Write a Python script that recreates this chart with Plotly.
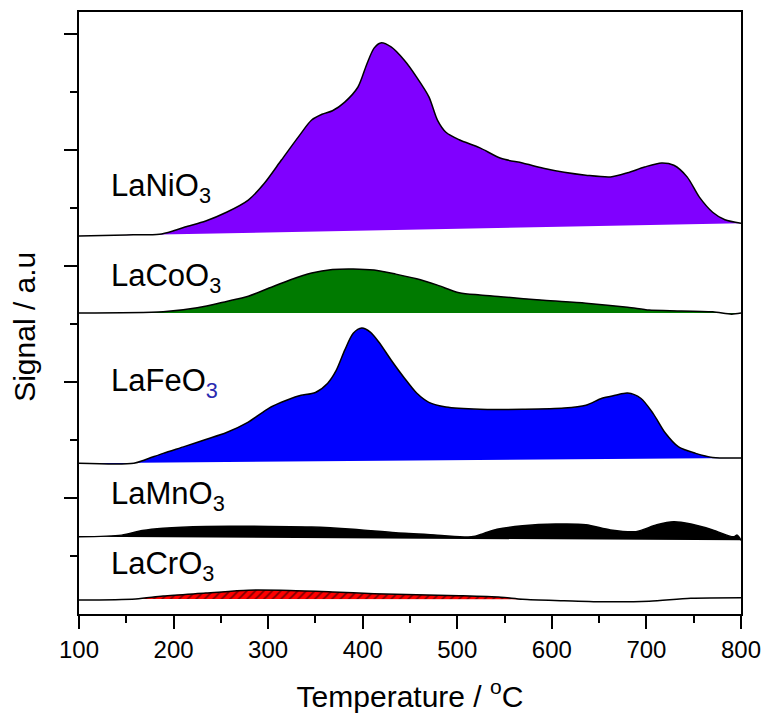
import plotly.graph_objects as go

# ---------------- data (temperature in °C, signal in a.u.) ----------------
NI_T = [100, 150, 185, 200, 212, 234, 256, 279, 296, 314, 332, 346, 357, 368, 381, 395, 404, 412, 419,
        430, 444, 457, 470, 479, 488, 502, 524, 546, 569, 591, 613, 636, 662, 680, 698, 716, 729, 743,
        756, 770, 783, 800]
NI_S = [0, 0.02, 0.03, 0.09, 0.155, 0.26, 0.41, 0.62, 0.91, 1.31, 1.71, 2.0, 2.10, 2.16, 2.31, 2.57, 2.95,
        3.24, 3.33, 3.26, 3.03, 2.74, 2.40, 2.0, 1.79, 1.66, 1.52, 1.34, 1.26, 1.17, 1.10, 1.05, 1.02, 1.09,
        1.19, 1.26, 1.22, 1.02, 0.67, 0.41, 0.28, 0.22]

CO_T = [100, 189, 225, 256, 279, 301, 323, 346, 368, 390, 412, 435, 457, 479, 502, 524, 546, 591, 636,
        680, 703, 725, 770, 790, 800]
CO_S = [0, 0.02, 0.09, 0.20, 0.29, 0.43, 0.57, 0.69, 0.75, 0.76, 0.74, 0.67, 0.59, 0.48, 0.35, 0.31, 0.28,
        0.22, 0.17, 0.10, 0.05, 0.04, 0.02, -0.02, 0.0]

FE_T = [100, 158, 170, 189, 212, 234, 256, 279, 301, 314, 332, 350, 363, 372, 381, 390, 399, 408, 417,
        430, 444, 457, 470, 488, 524, 569, 613, 636, 653, 667, 680, 694, 707, 720, 734, 752, 770, 800]
FE_S = [0, 0.0, 0.06, 0.17, 0.29, 0.41, 0.53, 0.71, 0.95, 1.05, 1.16, 1.22, 1.38, 1.60, 1.95, 2.24, 2.33,
        2.26, 2.09, 1.78, 1.47, 1.21, 1.05, 0.97, 0.93, 0.93, 0.95, 1.0, 1.12, 1.17, 1.21, 1.12, 0.86, 0.52,
        0.28, 0.17, 0.10, 0.09]

MN_T = [100, 145, 167, 189, 234, 301, 346, 390, 435, 479, 515, 528, 542, 569, 604, 636, 662, 689, 711,
        729, 747, 770, 792, 796, 800]
MN_S = [0, 0.03, 0.11, 0.15, 0.18, 0.18, 0.17, 0.13, 0.07, 0.03, 0.0, 0.06, 0.13, 0.19, 0.22, 0.21, 0.12,
        0.09, 0.21, 0.26, 0.22, 0.12, 0.0, 0.03, -0.06]

CR_T = [100, 160, 189, 234, 279, 323, 368, 412, 457, 502, 546, 569, 613, 658, 703, 747, 800]
CR_S = [0, 0.02, 0.07, 0.12, 0.17, 0.165, 0.14, 0.11, 0.09, 0.075, 0.05, 0.015, -0.01, -0.03, -0.02, 0.03,
        0.04]
CR_HATCH = (155, 570)  # temperature span of the hatched area

SAMPLES = ["LaNiO3", "LaCoO3", "LaFeO3", "LaMnO3", "LaCrO3"]
X_TICKS = [100, 200, 300, 400, 500, 600, 700, 800]

# ---------------- layout / style ----------------
OFFSETS = [6.517, 5.19, 2.60, 1.33, 0.24]
FILLS = ["#8000ff", "#007a00", "#0000ff", "#000000", "#ff0000"]
LABEL_Y = [7.34, 5.80, 3.99, 2.03, 0.83]
FONT = "Liberation Sans, Arial, sans-serif"

series = [(NI_T, NI_S), (CO_T, CO_S), (FE_T, FE_S), (MN_T, MN_S), (CR_T, CR_S)]

fig = go.Figure()
for i, ((t, s), off, col) in enumerate(zip(series, OFFSETS, FILLS)):
    y = [v + off for v in s]
    if SAMPLES[i] == "LaCrO3":
        ht = [tt for tt in t if CR_HATCH[0] <= tt <= CR_HATCH[1]]
        hy = [v + off for tt, v in zip(t, s) if CR_HATCH[0] <= tt <= CR_HATCH[1]]
        fig.add_trace(go.Scatter(x=ht, y=hy, mode="lines", fill="toself",
                                 fillcolor="#ff0000",
                                 fillpattern=dict(shape="/", fgcolor="#000000", bgcolor="#ff0000",
                                                  size=6, solidity=0.3),
                                 line=dict(width=0, shape="spline", smoothing=0.8),
                                 hoverinfo="skip", showlegend=False))
        fig.add_trace(go.Scatter(x=t, y=y, mode="lines",
                                 line=dict(color="black", width=1.5, shape="spline", smoothing=0.8),
                                 showlegend=False))
    else:
        fig.add_trace(go.Scatter(x=t, y=y, mode="lines", fill="toself", fillcolor=col,
                                 line=dict(color="black", width=1.5, shape="spline", smoothing=0.8),
                                 showlegend=False))

for name, ly in zip(SAMPLES, LABEL_Y):
    base, sub = name[:-1], name[-1]
    if name == "LaFeO3":
        txt = f"{base}<sub><span style='color:#2a2ab0'>{sub}</span></sub>"
    else:
        txt = f"{base}<sub>{sub}</sub>"
    fig.add_annotation(x=132, y=ly, xref="x", yref="y", text=txt, showarrow=False,
                       xanchor="left", yanchor="middle",
                       font=dict(family=FONT, size=31, color="black"))

fig.add_annotation(x=-0.0816, y=0.477, xref="paper", yref="paper", text="Signal / a.u",
                   textangle=-90, showarrow=False, xanchor="center", yanchor="middle",
                   font=dict(family=FONT, size=30, color="black"))

fig.update_xaxes(range=[100, 800], tickvals=X_TICKS, ticktext=[str(v) for v in X_TICKS],
                 ticks="outside", ticklen=13, tickwidth=2, tickcolor="black",
                 ticklabeloverflow="allow",
                 minor=dict(dtick=50, tick0=100, ticks="outside", ticklen=7, tickwidth=2,
                            tickcolor="black"),
                 showline=True, linecolor="black", linewidth=2, mirror=True,
                 showgrid=False, zeroline=False,
                 tickfont=dict(family=FONT, size=24, color="black"),
                 title=dict(text="Temperature / <sup>o</sup>C",
                            font=dict(family=FONT, size=30, color="black"), standoff=24))
fig.update_yaxes(range=[0, 10.38], tickvals=[2, 4, 6, 8, 10], showticklabels=False,
                 ticks="outside", ticklen=13, tickwidth=2, tickcolor="black",
                 minor=dict(tickvals=[1, 3, 5, 7, 9], ticks="outside", ticklen=7, tickwidth=2,
                            tickcolor="black"),
                 showline=True, linecolor="black", linewidth=2, mirror=True,
                 showgrid=False, zeroline=False)

# the page body adds an 8px margin, so the figure is sized/offset to compensate
fig.update_layout(width=761, height=712, margin=dict(l=71, r=28, t=4, b=106, autoexpand=False),
                  plot_bgcolor="white", paper_bgcolor="white", showlegend=False,
                  font=dict(family=FONT, color="black"))

fig.write_html("out.html")
